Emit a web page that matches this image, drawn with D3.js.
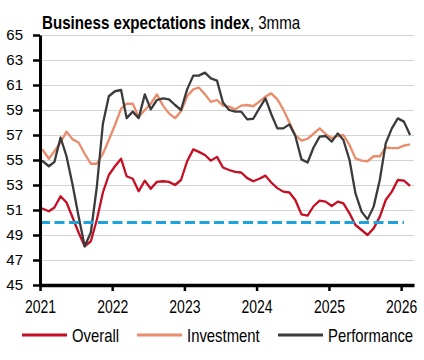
<!DOCTYPE html>
<html><head><meta charset="utf-8">
<script src="https://cdn.jsdelivr.net/npm/d3@7"></script>
<style>
html,body{margin:0;padding:0;background:#fff;}
svg{display:block;}
text{font-family:"Liberation Sans",Arial,sans-serif;}
</style></head>
<body>
<svg id="chart" width="424" height="360"></svg>
<script>
// Monthly categories Dec 2020 .. Feb 2026 (first point sits behind the y axis)
const startMonth = new Date(2020, 11, 1);
const endMonth = new Date(2026, 2, 1);
const yearTicks = [2021, 2022, 2023, 2024, 2025, 2026];
const yTicks = [45, 47, 49, 51, 53, 55, 57, 59, 61, 63, 65];
const seriesNames = ["Overall", "Investment", "Performance"];
const threshold = 50;

const overall = [51.3, 51.1, 50.9, 51.2, 52.1, 51.6, 50.4, 49.2, 48.1, 48.5, 50.2, 52.4, 53.8,
  54.5, 55.1, 53.7, 53.5, 52.5, 53.35, 52.7, 53.25, 53.3, 53.25, 53.0, 53.4, 54.9,
  55.85, 55.65, 55.4, 54.95, 55.25, 54.4, 54.2, 54.05, 54.0, 53.55, 53.3, 53.5,
  53.75, 53.2, 52.75, 52.47, 52.4, 51.8, 50.65, 50.55, 51.3, 51.75, 51.67, 51.32,
  51.67, 51.53, 50.73, 49.8, 49.4, 49.0, 49.53, 50.45, 51.8, 52.47, 53.4, 53.35, 52.93];
const investment = [56.0, 55.8, 55.1, 55.7, 56.4, 57.27, 56.65, 56.4, 55.5, 54.7, 54.7, 55.5, 56.6,
  57.8, 59.1, 59.5, 59.5, 58.45, 59.0, 59.5, 60.25, 59.35, 58.73, 58.35, 58.9, 60.1,
  60.65, 60.8, 60.25, 59.65, 59.8, 59.35, 59.27, 59.05, 59.35, 59.4, 59.3, 59.67,
  60.07, 60.33, 59.85, 59.05, 58.0, 57.0, 56.55, 56.7, 57.1, 57.53, 57.08, 56.75,
  56.92, 57.0, 56.2, 55.13, 54.95, 54.9, 55.3, 55.3, 56.0, 55.95, 55.95, 56.15, 56.25];
const performance = [55.0, 54.9, 54.5, 54.85, 56.8, 55.3, 53.0, 50.5, 48.1, 49.2, 52.8, 57.9, 60.1,
  60.5, 60.6, 58.35, 58.87, 58.35, 60.25, 59.05, 59.8, 59.93, 59.85, 59.4, 59.0, 60.65,
  61.75, 61.75, 61.99, 61.53, 61.35, 59.6, 59.0, 58.87, 58.87, 58.25, 58.3, 59.13,
  59.93, 58.68, 57.53, 57.53, 57.85, 56.92, 55.05, 54.8, 56.0, 56.87, 56.92, 56.47,
  57.13, 56.6, 55.0, 52.33, 50.87, 50.25, 51.27, 53.4, 56.33, 57.53, 58.33, 58.07, 57.0];

const colors = ["#c40f24", "#e98c6b", "#3b3b3b"];
const allSeries = [overall, investment, performance];

const months = d3.timeMonth.range(startMonth, endMonth).map(d => new Date(d.getFullYear(), d.getMonth(), 15));

const svg = d3.select("#chart");
const plotL = 40, plotR = 414, plotT = 35, plotB = 285;

const x = d3.scaleTime()
  .domain([new Date(2021, 0, 1), new Date(2026, 2, 7)])
  .range([plotL, plotR]);
const y = d3.scaleLinear().domain([45, 65]).range([plotB, plotT]);

// gridlines
svg.append("g")
  .attr("transform", `translate(${plotL},0)`)
  .call(d3.axisLeft(y).tickValues(yTicks).tickSize(-(plotR - plotL)).tickFormat(""))
  .call(g => g.select(".domain").remove())
  .call(g => g.selectAll("line").attr("stroke", "#d4d4d4").attr("stroke-width", 1));

// clip
svg.append("clipPath").attr("id", "plot")
  .append("rect").attr("x", plotL).attr("y", 0).attr("width", plotR - plotL).attr("height", plotB);

const line = d3.line().x((d, i) => x(months[i])).y(d => y(d));
const gLines = svg.append("g").attr("clip-path", "url(#plot)");
allSeries.forEach((s, k) => {
  gLines.append("path").datum(s)
    .attr("fill", "none").attr("stroke", colors[k])
    .attr("stroke-width", 2.3).attr("stroke-linejoin", "round")
    .attr("d", line);
});

// threshold dashed line
svg.append("line")
  .attr("x1", x(new Date(2021, 0, 1))).attr("x2", x(new Date(2026, 0, 15)))
  .attr("y1", y(threshold)).attr("y2", y(threshold))
  .attr("stroke", "#1ba3dd").attr("stroke-width", 3)
  .attr("stroke-dasharray", "10,4.5");

// y axis
svg.append("g")
  .attr("transform", `translate(${plotL},0)`)
  .call(d3.axisLeft(y).tickValues(yTicks).tickSize(7).tickSizeOuter(0).tickPadding(10))
  .call(g => g.select(".domain").attr("stroke", "#000").attr("stroke-width", 3))
  .call(g => g.selectAll(".tick line").attr("stroke", "#000").attr("stroke-width", 2.5))
  .call(g => g.selectAll("text").attr("font-size", 15).attr("fill", "#000"));

// x axis
svg.append("g")
  .attr("transform", `translate(0,${plotB})`)
  .call(d3.axisBottom(x).tickValues(yearTicks.map(yr => new Date(yr, 0, 1)))
      .tickFormat(d3.timeFormat("%Y")).tickSize(6).tickSizeOuter(0).tickPadding(10))
  .call(g => g.select(".domain").attr("stroke", "#000").attr("stroke-width", 3.5))
  .call(g => g.selectAll(".tick line").attr("stroke", "#000").attr("stroke-width", 2.5))
  .call(g => g.selectAll("text").attr("font-size", 17.5).attr("fill", "#000")
      .attr("transform", "scale(0.8,1)"));
svg.selectAll("g").attr("font-family", null);

// title
const title = svg.append("text").attr("transform", "translate(42,29) scale(0.865,1)")
  .attr("font-size", 17.5).attr("fill", "#000");
title.append("tspan").attr("font-weight", "bold").text("Business expectations index");
title.append("tspan").text(", 3mma");

// legend
const legendX = [22, 137, 278];
seriesNames.forEach((name, k) => {
  const g = svg.append("g").attr("transform", `translate(${legendX[k]},335)`);
  g.append("line").attr("x1", 0).attr("x2", 45).attr("y1", 0).attr("y2", 0)
    .attr("stroke", colors[k]).attr("stroke-width", 3);
  g.append("text").attr("transform", "translate(50,7) scale(0.85,1)")
    .attr("font-size", 17.5).attr("fill", "#000").text(name);
});
</script>
</body></html>
